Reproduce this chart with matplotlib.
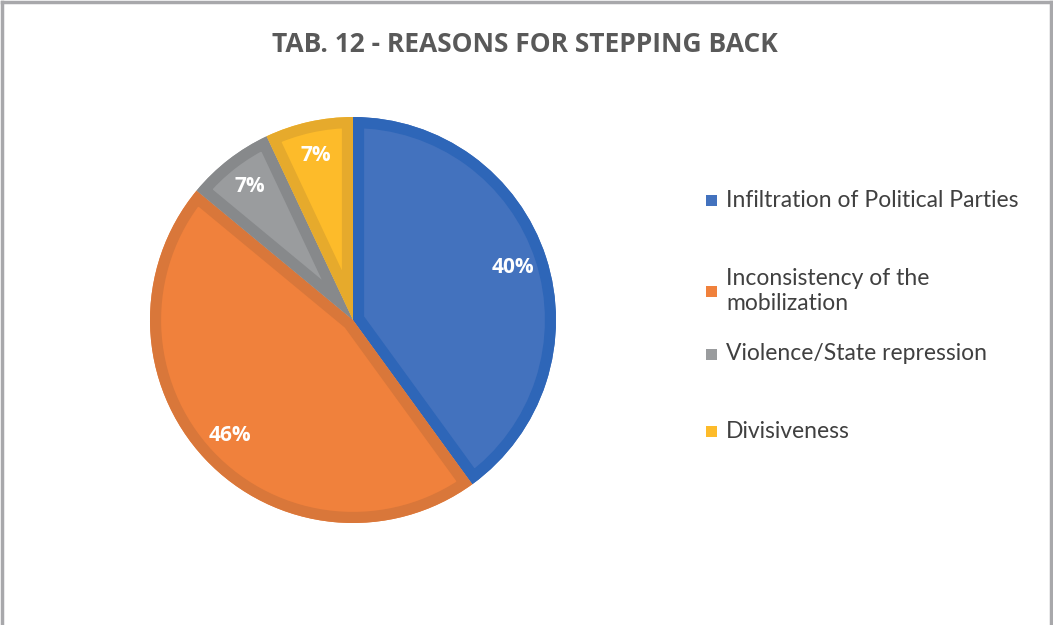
import numpy as np
import matplotlib.pyplot as plt
from matplotlib.patches import Wedge, Rectangle
from matplotlib.lines import Line2D

plt.rcParams['font.family'] = ['Lato', 'DejaVu Sans']

# Data
reasons = ['Infiltration of Political Parties',
           'Inconsistency of the\nmobilization',
           'Violence/State repression',
           'Divisiveness']
shares = [40, 46, 7, 7]
fill_colors = ['#4372BE', '#F0813C', '#9A9C9E', '#FDBB2A']
edge_colors = ['#2E66B8', '#D9773A', '#87898B', '#E6AA2C']

W, H = 1053, 625
fig = plt.figure(figsize=(W / 100, H / 100), dpi=100)

# pie axes: centre (353, 320) px, radius 203 px
cx, cy, r = 353, 320, 203
ax = fig.add_axes([(cx - r) / W, (H - cy - r) / H, 2 * r / W, 2 * r / H])
wedges, texts, autotexts = ax.pie(
    shares, colors=fill_colors, startangle=90, counterclock=False,
    radius=1, autopct='%d%%', pctdistance=0.83,
    wedgeprops=dict(linewidth=0),
    textprops=dict(color='white', fontsize=15, fontweight='bold',
                   family=['Open Sans', 'DejaVu Sans']))
ax.set_xlim(-1, 1)
ax.set_ylim(-1, 1)
ax.set_aspect('equal')
ax.axis('off')

# darker inner band on every slice
for w, ec in zip(wedges, edge_colors):
    band = Wedge(w.center, w.r, w.theta1, w.theta2, facecolor='none',
                 edgecolor=ec, linewidth=16, zorder=w.get_zorder() + 0.5)
    ax.add_patch(band)
    band.set_clip_path(w)
for t in autotexts:
    t.set_zorder(5)

# title
fig.text(525 / W, 1 - 45 / H, 'TAB. 12 - REASONS FOR STEPPING BACK',
         ha='center', va='center', fontsize=19, fontweight='bold',
         color='#595959', family=['Open Sans', 'DejaVu Sans'])

# legend
legend_y = [200, 291, 354, 431]
for lab, col, y in zip(reasons, fill_colors, legend_y):
    fig.patches.append(Rectangle((706 / W, 1 - (y + 6) / H), 11 / W, 11 / H,
                                 transform=fig.transFigure, facecolor=col,
                                 edgecolor='none'))
    fig.text(726 / W, 1 - y / H, lab, ha='left', va='center', fontsize=16.5,
             color='#404040', linespacing=1.25)

# chart frame (top, left, right)
fc = '#A8A8AB'
for xs, ys in [([2, 1051], [2, 2]), ([2, 2], [2, 625]), ([1051, 1051], [2, 625])]:
    fig.lines.append(Line2D([x / W for x in xs], [1 - y / H for y in ys],
                            transform=fig.transFigure, color=fc, linewidth=2.5))

fig.savefig('out.png', dpi=100)
